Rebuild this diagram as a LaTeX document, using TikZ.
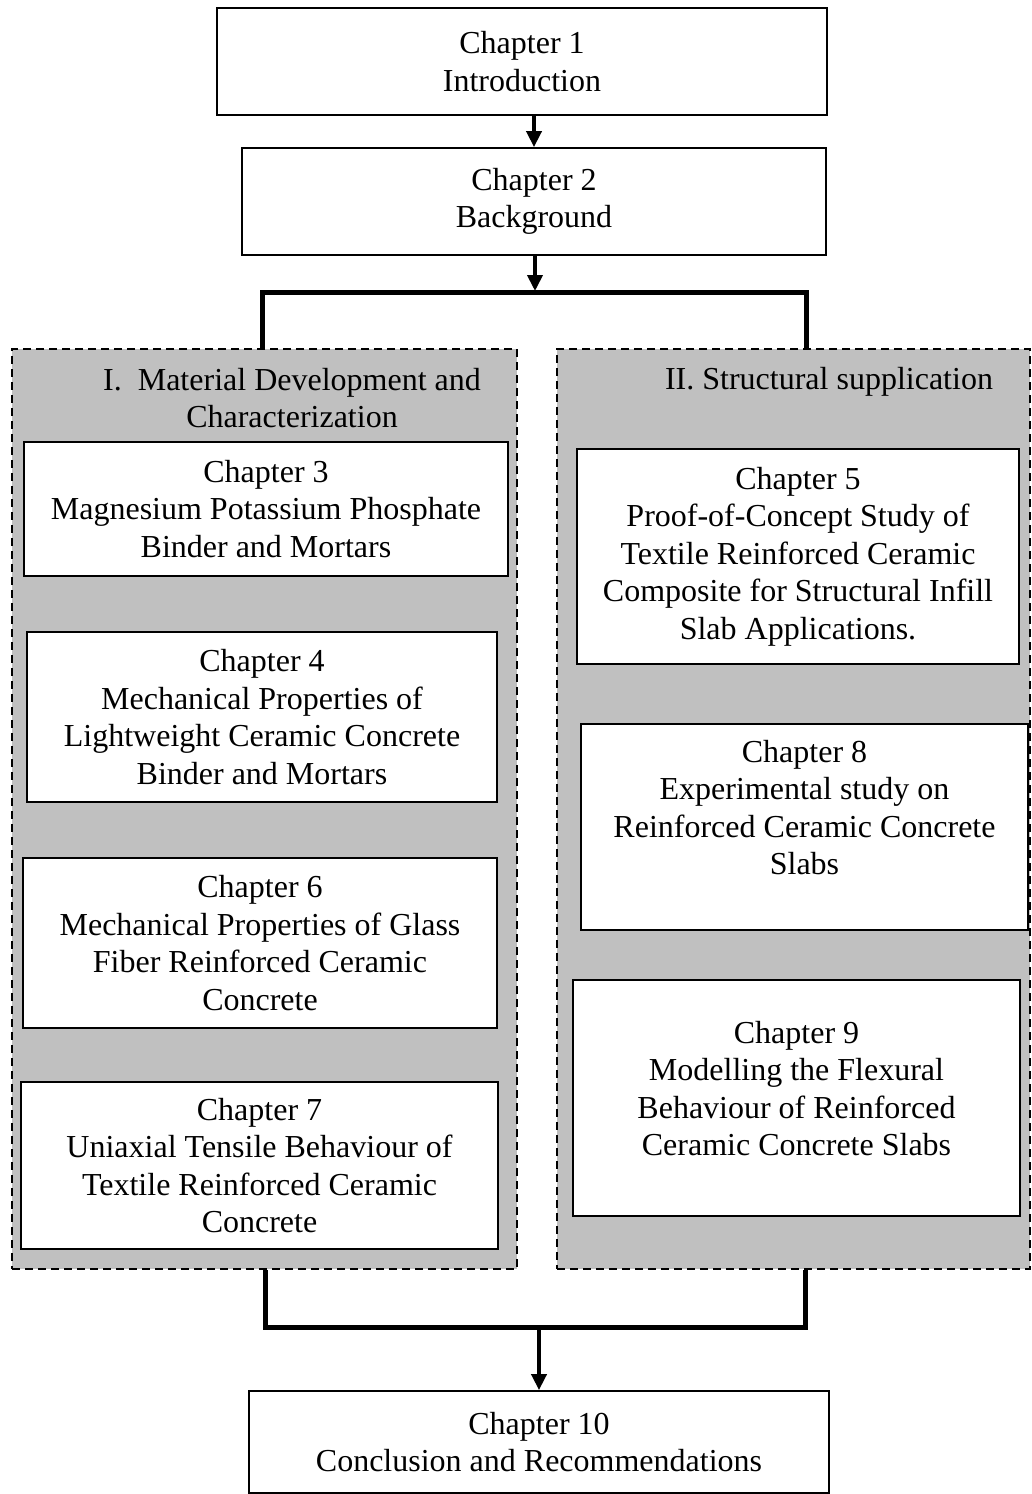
\documentclass[tikz,border=0pt]{standalone}
\usepackage{fontspec}
\setmainfont{Liberation Serif}
\usetikzlibrary{arrows.meta,positioning}
\definecolor{grpGray}{HTML}{C0C0C0}
\begin{document}
\begin{tikzpicture}[x=0.5pt,y=-0.5pt,font=\fontsize{16pt}{18.75pt}\selectfont,
  chap/.style={draw,line width=0.9pt,fill=white,align=center,inner sep=0pt},
  grp/.style={draw,dashed,dash pattern=on 4pt off 2.5pt,line width=0.9pt,fill=grpGray,inner sep=0pt},
  ttl/.style={align=center,inner sep=0pt},
  link/.style={-{Triangle[width=7.5pt,length=8pt]},line width=1.9pt},
  bar/.style={line width=2.5pt}]
  \useasboundingbox (0,0) rectangle (1032,1494);
  % groups
  \node[grp,minimum width=252.5pt,minimum height=460pt] (matdev) at (264.5,809) {};
  \node[grp,minimum width=236.5pt,minimum height=460pt] (strapp) at (793.5,809) {};
  \node[ttl] (matdevT) at (292,398) {I.\enspace Material Development and\\Characterization};
  \node[ttl] (strappT) at (829,382) {II. Structural supplication};
  % chapters
  \node[chap,minimum width=305pt,minimum height=53.5pt] (ch1) at (522,61.5) {Chapter 1\\Introduction};
  \node[chap,minimum width=292pt,minimum height=53.5pt] (ch2) at (534,201.5) {Chapter 2\\Background};
  \node[chap,minimum width=242pt,minimum height=67pt] (ch3) at (266,509) {Chapter 3\\Magnesium Potassium Phosphate\\Binder and Mortars};
  \node[chap,minimum width=235pt,minimum height=85pt] (ch4) at (262,717) {Chapter 4\\Mechanical Properties of\\Lightweight Ceramic Concrete\\Binder and Mortars};
  \node[chap,minimum width=237pt,minimum height=85pt] (ch6) at (260,943) {Chapter 6\\Mechanical Properties of Glass\\Fiber Reinforced Ceramic\\Concrete};
  \node[chap,minimum width=238.5pt,minimum height=83.5pt] (ch7) at (259.5,1165.5) {Chapter 7\\Uniaxial Tensile Behaviour of\\Textile Reinforced Ceramic\\Concrete};
  \node[chap,minimum width=221pt,minimum height=107.5pt] (ch5) at (798,556.5) {Chapter 5\\Proof-of-Concept Study of\\Textile Reinforced Ceramic\\Composite for Structural Infill\\Slab Applications.};
  \node[chap,minimum width=223.5pt,minimum height=103pt] (ch8) at (804.5,827) {Chapter 8\\Experimental study on\\Reinforced Ceramic Concrete\\Slabs\\[-5pt]\strut};
  \node[chap,minimum width=223.5pt,minimum height=118pt] (ch9) at (796.5,1098) {Chapter 9\\Modelling the Flexural\\Behaviour of Reinforced\\Ceramic Concrete Slabs\\[-15pt]\strut};
  \node[chap,minimum width=290pt,minimum height=51pt] (ch10) at (539,1442) {Chapter 10\\Conclusion and Recommendations};
  % connectors
  \coordinate (topbar) at (535,291);
  \coordinate (tl) at (262,292);
  \coordinate (tr) at (806,292);
  \coordinate (bl) at (265,1327);
  \coordinate (br) at (805,1327);
  \draw[link] (ch2.north |- ch1.south) -- (ch2.north);
  \draw[link] (topbar |- ch2.south) -- (topbar);
  \draw[bar] (tl |- matdev.north) -- (tl) -- (tr) -- (tr |- strapp.north);
  \draw[bar] (bl |- matdev.south) -- (bl) -- (br) -- (br |- strapp.south);
  \draw[link] (ch10.north |- bl) -- (ch10.north);
\end{tikzpicture}
\end{document}
